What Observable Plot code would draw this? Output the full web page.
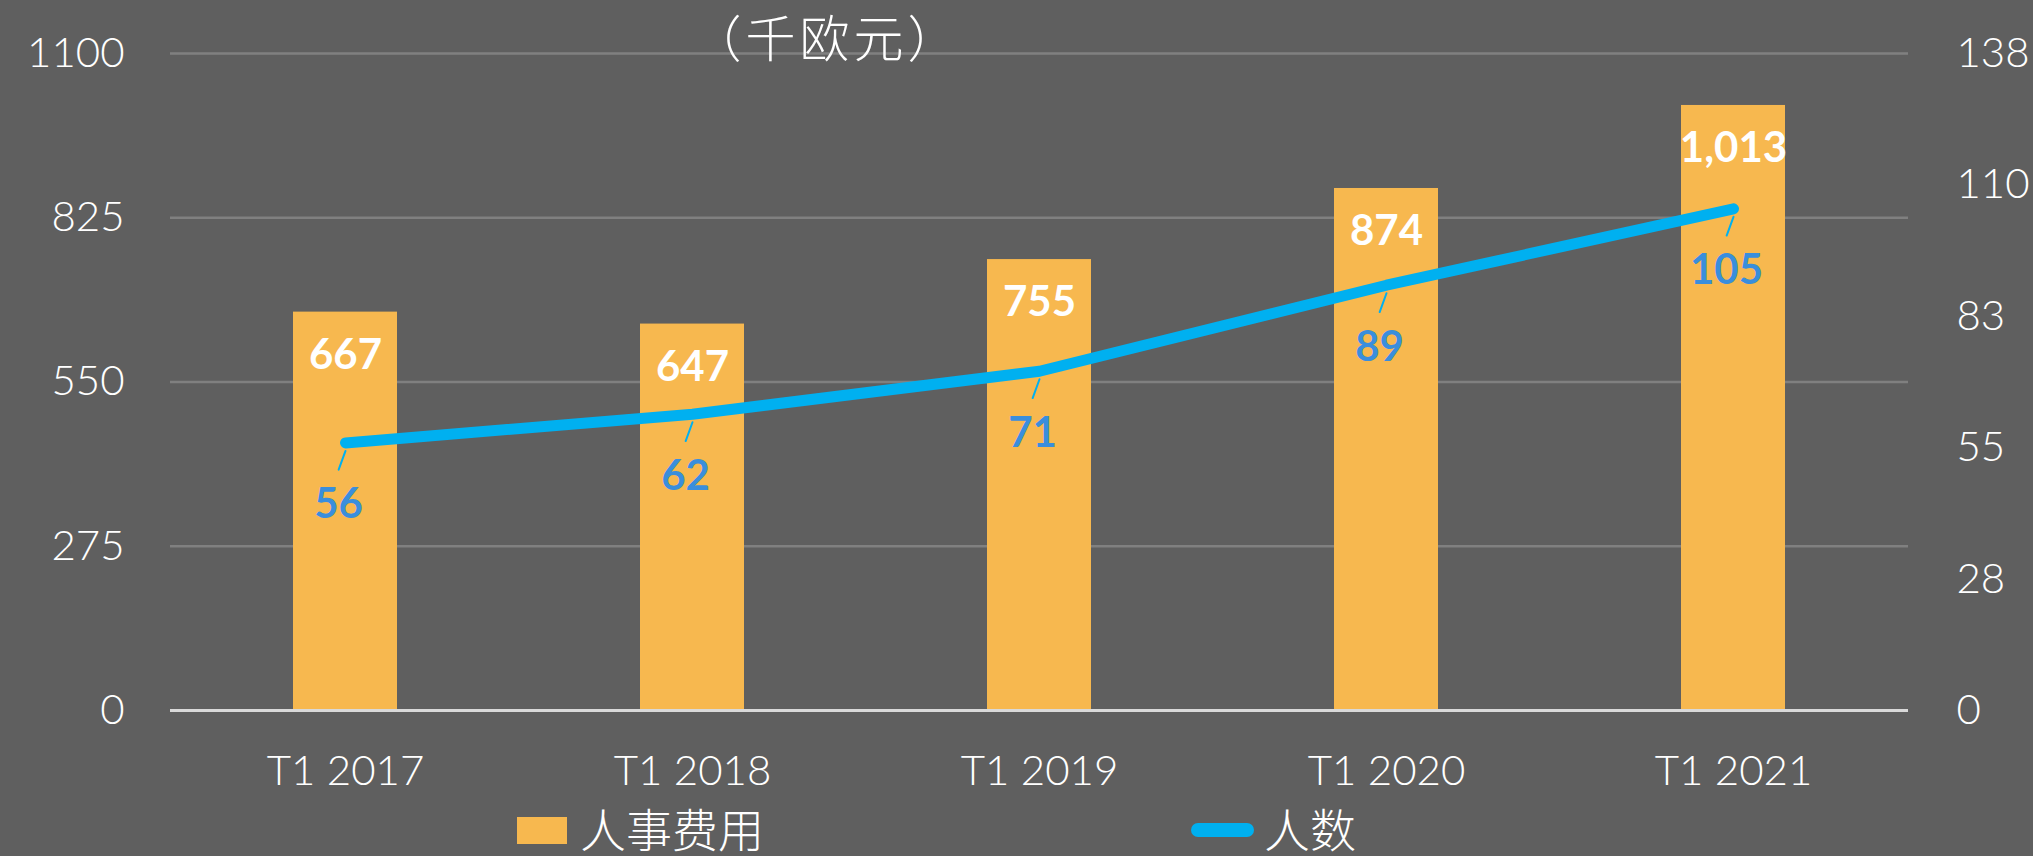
<!DOCTYPE html>
<html>
<head>
<meta charset="utf-8">
<script src="https://cdn.jsdelivr.net/npm/d3@7"></script>
<script src="https://cdn.jsdelivr.net/npm/@observablehq/plot@0.6"></script>
<style>
  html, body { margin: 0; padding: 0; background: #5f5f5f; }
  #chart svg { display: block; }
  #legend { position: relative; width: 2033px; height: 56px; }
  #legend .sw { position: absolute; }
  #legend .lt { position: absolute; color: #fff; font-family: "Noto Sans CJK SC", sans-serif; font-weight: 300; font-size: 46px; line-height: 1; white-space: nowrap; }
</style>
</head>
<body>
<div id="chart"></div>
<div id="legend">
  <div class="sw" style="left:517px; top:17px; width:50px; height:27px; background:#F7B84F;"></div>
  <div class="lt" id="lg1" style="left:580px; top:4px;"></div>
  <div class="sw" style="left:1191px; top:23px; width:63px; height:14px; border-radius:7px; background:#00B0F0;"></div>
  <div class="lt" id="lg2" style="left:1264px; top:4px;"></div>
</div>
<script>
const categories = ["T1 2017", "T1 2018", "T1 2019", "T1 2020", "T1 2021"];
const costs = [667, 647, 755, 874, 1013];
const headcount = [56, 62, 71, 89, 105];
const leftTicks = [0, 275, 550, 825, 1100];
const rightTicks = [0, 27.5, 55, 82.5, 110, 137.5];
const leftMax = 1100;
const rightMax = 137.5;
const unitTitle = "（千欧元）";
const seriesNames = ["人事费用", "人数"];

const ratio = leftMax / rightMax;
const data = categories.map((c, i) => ({cat: c, cost: costs[i], n: headcount[i]}));

document.getElementById("lg1").textContent = seriesNames[0];
document.getElementById("lg2").textContent = seriesNames[1];

const leader = {
  draw(context, l) {
    context.moveTo(0, 0);
    context.lineTo(0, -l);
  }
};

const chart = Plot.plot({
  width: 2033,
  height: 800,
  marginLeft: 170,
  marginRight: 125,
  marginTop: 53,
  marginBottom: 90,
  style: {background: "#5f5f5f", color: "#ffffff", fontFamily: "Lato, 'Open Sans', sans-serif"},
  x: {domain: categories, paddingInner: 0.7, paddingOuter: 0.35, label: null},
  y: {domain: [0, leftMax], label: null},
  marks: [
    Plot.gridY(leftTicks, {stroke: "#808080", strokeOpacity: 1, strokeWidth: 2.5}),
    Plot.barY(data, {x: "cat", y: "cost", fill: "#F7B84F"}),
    Plot.ruleY([0], {stroke: "#d9d9d9", strokeWidth: 3}),
    Plot.line(data, {x: "cat", y: d => d.n * ratio, stroke: "#00B0F0", strokeWidth: 11, strokeLinecap: "round", strokeLinejoin: "round"}),
    Plot.vector(data, {x: "cat", y: d => d.n * ratio, length: 20, rotate: 200, anchor: "start", shape: leader, stroke: "#00B0F0", fill: "none", strokeWidth: 2, dy: 8}),
    Plot.text(data, {x: "cat", y: "cost", text: d => d3.format(",")(d.cost), dy: 43, fill: "#ffffff", fontSize: 42, fontWeight: "bold", lineAnchor: "middle"}),
    Plot.text(data, {x: "cat", y: d => d.n * ratio, text: d => String(d.n), dy: 62, dx: -7, fill: "#3A8EDC", fontSize: 42, fontWeight: "bold", lineAnchor: "middle"}),
    Plot.axisY(leftTicks, {anchor: "left", tickSize: 0, tickPadding: 46, fontSize: 42, fontWeight: 300, label: null, tickFormat: d => String(d)}),
    Plot.axisY(rightTicks.map(t => t * ratio), {anchor: "right", tickSize: 0, tickPadding: 48, fontSize: 42, fontWeight: 300, label: null, tickFormat: d => String(Math.round(d / ratio))}),
    Plot.axisX({tickSize: 0, tickPadding: 45, fontSize: 42, fontWeight: 300, label: null}),
    Plot.text([unitTitle], {frameAnchor: "top-left", dx: 656, dy: -13, textAnchor: "middle", lineAnchor: "middle", fill: "#ffffff", fontSize: 50, fontWeight: 300, fontFamily: "'Noto Sans CJK TC', 'Noto Sans CJK SC', sans-serif"})
  ]
});
chart.querySelectorAll("text").forEach(t => {
  if (t.textContent === unitTitle) {
    t.style.fontFamily = "'Noto Sans CJK TC', 'Noto Sans CJK SC', sans-serif";
    t.style.fontFeatureSettings = "'fwid' 1";
    t.style.letterSpacing = "4px";
  }
});
document.getElementById("chart").appendChild(chart);
</script>
</body>
</html>
